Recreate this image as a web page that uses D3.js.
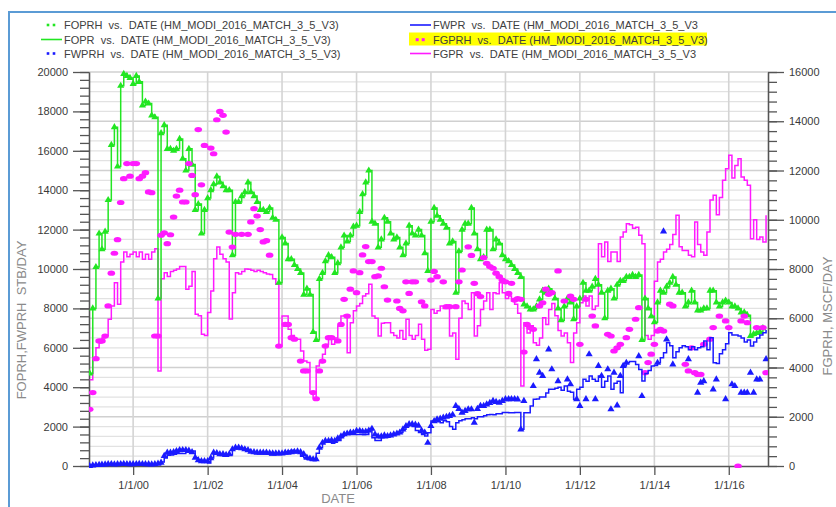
<!DOCTYPE html>
<html>
<head>
<meta charset="utf-8">
<script src="https://cdn.jsdelivr.net/npm/d3@7"></script>
<style>
  html, body { margin: 0; padding: 0; background: #fff; }
  svg { display: block; font-family: "Liberation Sans", Arial, sans-serif; }
</style>
</head>
<body>
<svg id="chart" width="836" height="507"></svg>
<script>
// ---- Field production history vs. simulation (HM_MODI_2016_MATCH_3_5_V3) ----

// Simulated oil rate FOPR, STB/DAY, one value per month from Nov 1998
const FOPR_START = "1998-11";
const FOPR = [
  4700, 8000,
  10100, 11800, 11000, 11900, 13500, 16300, 17200, 15200, 19300, 19900, 19800, 19700,
  19400, 19800, 19500, 18300, 18500, 18400, 17800, 17700, 8500, 16900, 17300, 16100,
  16100, 16000, 16100, 16600, 15600, 15000, 16100, 15300, 13000, 13300, 11800, 13000,
  13600, 14000, 14300, 14700, 14400, 14200, 14000, 14000, 10700, 13400, 13400, 13700,
  13900, 14400, 13900, 13700, 13400, 13000, 13000, 12900, 13100, 12600, 12500, 9300,
  11600, 11300, 10500, 10500, 10200, 10000, 9800, 8700, 9000, 8700, 6800, 6400,
  9500, 9800, 10400, 10700, 10600, 9800, 10300, 11100, 11700, 11400, 11700, 12150,
  12200, 12900, 13800, 14400, 15000, 12400, 12300, 11100, 11500, 12600, 12400, 11800,
  11500, 11600, 11100, 10700, 11300, 12200, 11800, 11700, 12000, 11700, 10800, 9900,
  12400, 13100, 12700, 12500, 12300, 12100, 11300, 11400, 8800, 10900, 12000, 12300,
  12300, 13100, 11800, 11000, 10500, 10600, 12000, 12000, 11000, 11500, 11300, 10700,
  10500, 10400, 10200, 10000, 9800, 9600, 8200, 8100, 7950, 7950, 8100, 8460,
  8900, 8800, 9000, 8800, 8500, 8000, 7400, 8100, 8500, 8300, 7450, 8100,
  8500, 9300, 8900, 8900, 9100, 9500, 9200, 8800, 7500, 8900, 9000, 8500,
  9200, 9400, 9400, 9600, 9600, 9700, 9600, 9700, 6400, 8500, 8000, 7600,
  7300, 8300, 8900, 8800, 9100, 9300, 9600, 9200, 8800, 8800, 8100, 8300,
  8900, 8300, 7900, 7900, 8000, 8000, 8900, 8900, 8300, 8100, 8300, 8400,
  8300, 8100, 8100, 8000, 7800, 7800, 7650, 6600, 6700, 6750, 6800, 7000
];
// Observed oil rate FOPRH: the model runs on oil-rate control, so it equals FOPR
const FOPRH = FOPR;

// Simulated gas rate FGPR, MSCF/DAY, monthly from Nov 1998
const FGPR_START = "1998-11";
const FGPR = [
  3500, 4400,
  4800, 5000, 5200, 5300, 5960, 6500, 7440, 6570, 8280, 8690, 8500, 8600,
  8690, 8500, 8690, 8400, 8600, 8400, 8690, 8820, 3860, 7600, 7850, 7700,
  7900, 7950, 8000, 8100, 8100, 7180, 7300, 7900, 6160, 6100, 5350, 5300,
  6230, 7110, 8420, 8890, 8600, 8420, 8280, 5970, 7040, 7850, 7800, 7900,
  8000, 7990, 7950, 7900, 7950, 7900, 7850, 7800, 7780, 7600, 7380, 4870,
  6090, 6090, 5550, 5300, 5150, 5150, 4670, 4260, 4200, 2980, 2770, 4060,
  4200, 4540, 4940, 5200, 4940, 5200, 5690, 6090, 6120, 4600, 5820, 6300,
  6500, 6600, 6900, 7000, 7380, 6090, 6000, 5280, 5800, 5820, 5820, 5410,
  5300, 5200, 5500, 5150, 5960, 5300, 5150, 5300, 5760, 5150, 4700, 4740,
  6360, 6200, 6300, 6500, 6400, 6500, 5280, 5400, 4330, 6000, 6700, 6600,
  6360, 7040, 5280, 5700, 6360, 6700, 7040, 6360, 7040, 7000, 7440, 7040,
  6800, 6900, 6700, 6570, 6200, 3250, 5820, 5400, 5700, 5010, 4900, 5200,
  6020, 5750, 6360, 6600, 6100, 5500, 5280, 5400, 5010, 4200, 5400, 5820,
  6630, 6900, 6500, 6900, 6360, 6500, 9030, 8500, 9100, 8300, 8690, 8690,
  8300, 9300, 9500, 9840, 9800, 9650, 9700, 9370, 9030, 5300, 5150, 5300,
  7500, 8280, 8400, 8690, 8800, 9000, 9400, 10180, 8900, 8750, 8750, 8560,
  8500, 9910, 9000, 8690, 8560, 9500, 10800, 10990, 10200, 10900, 11600, 12070,
  12620, 11700, 12200, 12480, 11740, 11600, 11400, 9230, 10000, 9200, 9300, 9100,
  10180
];

// Observed gas rate FGPRH, MSCF/DAY
const FGPRH = [
  ["1998-11",2300],["1998-12",2980],["1999-01",4360],["1999-02",5080],["1999-03",5080],
  ["1999-04",5280],["1999-05",6500],["1999-06",7830],["1999-07",8640],["1999-08",9190],
  ["1999-09",10700],["1999-10",11670],["1999-11",12280],["1999-12",11770],["2000-01",12280],
  ["2000-02",12280],["2000-03",11670],["2000-04",11770],["2000-05",11910],["2000-06",11130],
  ["2000-07",11100],["2000-08",5280],["2000-09",5280],["2000-10",9370],["2000-11",9470],
  ["2000-12",9030],["2001-01",9390],["2001-02",10110],["2001-03",10960],["2001-04",11200],
  ["2001-05",10720],["2001-06",10720],["2001-07",12280],["2001-08",11800],["2001-09",11020],
  ["2001-10",13660],["2001-11",11420],["2001-12",13020],["2002-02",12910],["2002-03",12680],
  ["2002-04",14060],["2002-05",14400],["2002-06",14240],["2002-07",13560],["2002-08",9500],
  ["2002-09",8890],["2002-10",9410],["2002-12",9410],["2003-02",9410],["2003-03",9910],
  ["2003-04",10450],["2003-05",10150],["2003-06",9600],["2003-07",9100],["2003-08",9150],
  ["2003-09",8560],["2003-12",4870],["2004-02",5750],["2004-03",5750],["2004-04",5210],
  ["2004-05",5150],["2004-07",4260],["2004-08",3860],["2004-09",3860],["2004-11",2980],
  ["2004-12",2730],["2005-01",3860],["2005-02",4260],["2005-03",4870],["2005-04",5210],
  ["2005-05",5210],["2005-07",5080],["2005-08",5750],["2005-09",6770],["2005-10",6090],
  ["2005-11",7180],["2005-12",7920],["2006-01",7040],["2006-02",7850],["2006-03",8570],
  ["2006-04",8910],["2006-05",8300],["2006-06",8300],["2006-07",7690],["2006-08",7720],
  ["2006-09",8030],["2006-10",7280],["2006-11",6740],["2007-02",6700],["2007-03",6400],
  ["2007-04",6300],["2007-05",7480],["2007-06",7010],["2007-07",7480],["2007-08",7480],
  ["2007-10",6670],["2007-11",6500],["2008-01",7550],["2008-02",7900],["2008-03",7690],
  ["2008-05",7480],["2008-06",6470],["2008-07",6470],["2008-09",6470],["2008-10",7480],
  ["2008-11",7960],["2009-01",8900],["2009-02",8550],["2009-03",7420],["2009-04",7000],
  ["2009-05",6880],["2009-06",8460],["2009-07",8230],["2009-08",8100],["2009-09",8030],
  ["2009-10",7830],["2009-11",7690],["2009-12",7550],["2010-01",7480],["2010-02",7010],
  ["2010-03",7420],["2010-04",6740],["2010-05",6800],["2010-06",6770],["2010-07",4630],
  ["2010-08",5750],["2010-09",5620],["2010-10",5550],["2010-12",6500],["2011-01",6630],
  ["2011-02",7180],["2011-03",6970],["2011-04",7040],["2011-06",7920],["2011-08",6700],
  ["2011-10",6900],["2011-11",6770],["2012-01",4940],["2012-03",6770],["2012-05",6090],
  ["2012-06",5690],["2012-10",5350],["2012-11",5280],["2012-12",4670],["2013-01",4800],
  ["2013-02",4940],["2013-04",5210],["2013-05",5550],["2013-07",5960],["2013-08",6430],
  ["2013-10",3790],["2013-11",4200],["2013-12",4540],["2014-01",4940],["2014-02",5480],
  ["2014-03",5550],["2014-04",5480],["2014-06",6570],["2014-07",6500],["2014-11",4130],
  ["2014-12",3860],["2015-01",4800],["2015-02",3790],["2015-03",3720],["2015-04",3720],
  ["2015-05",4940],["2015-07",5150],["2015-08",5620],["2015-10",6090],["2015-12",5890],
  ["2016-01",5620],["2016-04",0],["2016-05",5890],["2016-06",6090],["2016-07",5820],
  ["2016-10",5620],["2016-12",5620],["2017-01",3790]
];

// Simulated water rate FWPR, STB/DAY, monthly from Nov 1998
const FWPR_START = "1998-11";
const FWPR = [
  0, 0,
  30, 40, 50, 60, 80, 100, 80, 60, 80, 100, 80, 60,
  80, 100, 100, 80, 100, 80, 60, 80, 100, 200, 400, 550,
  560, 600, 640, 640, 640, 700, 720, 760, 420, 300, 250, 250,
  150, 400, 640, 640, 560, 500, 560, 560, 880, 900, 930, 900,
  850, 800, 700, 680, 640, 640, 620, 600, 560, 560, 600, 620,
  640, 700, 760, 800, 760, 700, 500, 420, 340, 300, 280, 650,
  930, 1180, 1270, 1270, 1150, 1270, 1300, 1500, 1610, 1610, 1600, 1600,
  1600, 1600, 1580, 1600, 1860, 1440, 1300, 1300, 1440, 1440, 1500, 1600,
  1600, 1650, 1700, 1860, 2030, 2120, 2000, 1800, 1700, 1600, 1520, 1690,
  2280, 2300, 2250, 2200, 2300, 2250, 2000, 1860, 2200, 2300, 2350, 2400,
  2400, 2450, 2400, 2500, 2500, 2550, 2600, 2620, 2600, 2650, 2650, 2710,
  2710, 2700, 2700, 2710, 2710, 1860, 2700, 2700, 3050, 3390, 3400, 3500,
  3500, 3700, 3890, 3890, 3950, 4000, 3850, 4060, 3800, 3750, 3390, 3900,
  4000, 4400, 4300, 4570, 4400, 4300, 4570, 4000, 4300, 4570, 3900, 4200,
  4300, 3720, 5080, 5240, 5300, 5300, 5150, 4900, 4310, 4700, 4850, 5080,
  5100, 5240, 5500, 5750, 6260, 6100, 5500, 5800, 6000, 6100, 6050, 5900,
  6050, 5900, 6000, 6050, 6350, 5900, 6510, 5240, 5200, 5700, 5900, 6200,
  6770, 6650, 6650, 6600, 6500, 6300, 6400, 6090, 6300, 6500, 6650, 6770,
  6900
];

// Observed water rate FWPRH, STB/DAY: monthly record to mid 2010 ...
const FWPRH_START = "1998-11";
const FWPRH_MONTHLY = [
  0, 30,
  50, 60, 70, 80, 90, 100, 80, 90, 100, 110, 100, 90,
  90, 100, 110, 100, 90, 90, 80, 90, 120, 170, 510, 680,
  680, 700, 760, 800, 810, 810, 780, 700, 420, 300, 250, 250,
  250, 400, 680, 660, 600, 600, 560, 600, 850, 930, 930, 900,
  850, 800, 720, 700, 680, 680, 680, 680, 660, 640, 640, 640,
  640, 680, 680, 700, 720, 740, 700, 600, 420, 380, 340, 340,
  930, 1180, 1270, 1270, 1300, 1270, 1400, 1500, 1610, 1650, 1690, 1700,
  1780, 1780, 1750, 1750, 1800, 1890, 1600, 1500, 1500, 1550, 1520, 1550,
  1600, 1650, 1700, 1860, 2030, 2120, 2120, 2100, 2050, 1800, 1700, 1180,
  2030, 2280, 2370, 2400, 2450, 2500, 2540, 2600, 3050, 2900, 2710, 2800,
  2880, 2880, 2200, 2900, 3050, 3050, 3130, 3200, 3300, 3250, 3210, 3300,
  3390, 3390, 3390, 3400, 3380, 1860, 3300
];
// ... and individual test points afterwards
const FWPRH_LATE = [
  ["2010-10",4060],["2010-11",5420],["2010-12",4740],["2011-01",4570],["2011-03",5920],
  ["2011-04",4910],["2011-06",4310],["2011-09",4400],["2011-10",4150],["2011-12",3390],
  ["2012-01",3050],["2012-03",3390],["2012-04",5670],["2012-06",3390],["2012-07",5080],
  ["2012-08",4570],["2012-10",4910],["2012-11",2880],["2012-12",4740],["2013-01",3080],
  ["2013-02",4570],["2013-03",5080],["2013-04",5240],["2013-08",5580],["2013-09",3550],
  ["2014-02",5240],["2014-04",11910],["2014-05",6430],["2014-07",5160],["2014-12",5420],
  ["2015-03",3720],["2015-04",4230],["2015-05",4310],["2015-08",3890],["2015-09",4400],
  ["2015-12",3390],["2016-02",4150],["2016-03",4060],["2016-05",3720],["2016-06",3720],
  ["2016-07",3720],["2016-08",4740],["2016-09",3720],["2016-10",4400],["2016-11",4400],
  ["2017-01",5420]
];

// Axis ticks
const Y_LEFT_MAX = 20000, Y_RIGHT_MAX = 16000;
const Y_MAJOR = 2000, Y_MINOR = 400;
const X_TICK_YEARS = [2000, 2002, 2004, 2006, 2008, 2010, 2012, 2014, 2016];

// Legend entries (left column, then right column)
const LEGEND_LEFT = [
  { key: "FOPRH", text: "FOPRH  vs.  DATE (HM_MODI_2016_MATCH_3_5_V3)", kind: "dots", color: "#22e622" },
  { key: "FOPR",  text: "FOPR  vs.  DATE (HM_MODI_2016_MATCH_3_5_V3)",  kind: "line", color: "#22e622" },
  { key: "FWPRH", text: "FWPRH  vs.  DATE (HM_MODI_2016_MATCH_3_5_V3)", kind: "dots", color: "#1a1aff" }
];
const LEGEND_RIGHT = [
  { key: "FWPR",  text: "FWPR  vs.  DATE (HM_MODI_2016_MATCH_3_5_V3",   kind: "line", color: "#1a1aff" },
  { key: "FGPRH", text: "FGPRH  vs.  DATE (HM_MODI_2016_MATCH_3_5_V3)", kind: "dots", color: "#ff1aff", highlight: true },
  { key: "FGPR",  text: "FGPR  vs.  DATE (HM_MODI_2016_MATCH_3_5_V3",   kind: "line", color: "#ff1aff" }
];

// ---- helpers ----
const parseMonth = d3.timeParse("%Y-%m");
const monthly = (start, values) => {
  const s = parseMonth(start);
  return values.map((v, i) => ({ date: d3.timeMonth.offset(s, i), value: v }));
};
const pairs = list => list.map(([d, v]) => ({ date: parseMonth(d), value: v }));

const GREEN = "#22e622", BLUE = "#1a1aff", MAGENTA = "#ff1aff";

const plot = { left: 89, right: 768, top: 72, bottom: 466 };

const x = d3.scaleTime()
  .domain([new Date(1998, 9, 25), new Date(2017, 0, 20)])
  .range([plot.left, plot.right]);
const yL = d3.scaleLinear().domain([0, Y_LEFT_MAX]).range([plot.bottom, plot.top]);
const yR = d3.scaleLinear().domain([0, Y_RIGHT_MAX]).range([plot.bottom, plot.top]);

const svg = d3.select("#chart");

// window frame
svg.append("path")
  .attr("d", "M9,507 L9,12 L836,12")
  .attr("fill", "none").attr("stroke", "#5b9bd5").attr("stroke-width", 2);

// ---- grid ----
const grid = svg.append("g");
grid.selectAll("line.h")
  .data(d3.range(Y_MINOR, Y_RIGHT_MAX + 1, Y_MINOR))
  .join("line")
  .attr("x1", plot.left).attr("x2", plot.right)
  .attr("y1", d => yR(d)).attr("y2", d => yR(d))
  .attr("stroke", d => d % Y_MAJOR === 0 ? "#d0d0d0" : "#e2e2e2")
  .attr("stroke-width", d => d % Y_MAJOR === 0 ? 1.6 : 1.2);
const xTicks = X_TICK_YEARS.map(y => new Date(y, 0, 1));
grid.selectAll("line.v")
  .data(xTicks)
  .join("line")
  .attr("x1", d => x(d)).attr("x2", d => x(d))
  .attr("y1", plot.top).attr("y2", plot.bottom)
  .attr("stroke", "#d4d4d4").attr("stroke-width", 1.6);

// ---- axes ----
const axisColor = "#555", labelColor = "#3a3a3a";
function styleAxis(g) {
  g.select(".domain").attr("stroke", axisColor).attr("stroke-width", 1.3);
  g.selectAll(".tick line").attr("stroke", axisColor).attr("stroke-width", 1.3);
  g.selectAll(".tick text").attr("fill", labelColor)
    .style("font-size", "11px").style("font-family", "'Liberation Sans', Arial, sans-serif");
}
const fmt = d3.format("d");
svg.append("g").attr("transform", `translate(${plot.left},0)`)
  .call(d3.axisLeft(yL).tickValues(d3.range(0, Y_LEFT_MAX + 1, Y_MINOR)).tickSize(9).tickFormat("").tickSizeOuter(0))
  .call(styleAxis);
svg.append("g").attr("transform", `translate(${plot.left},0)`)
  .call(d3.axisLeft(yL).tickValues(d3.range(0, Y_LEFT_MAX + 1, Y_MAJOR)).tickSize(16).tickPadding(5).tickFormat(fmt).tickSizeOuter(0))
  .call(styleAxis);
svg.append("g").attr("transform", `translate(${plot.right},0)`)
  .call(d3.axisRight(yR).tickValues(d3.range(0, Y_RIGHT_MAX + 1, Y_MINOR)).tickSize(9).tickFormat("").tickSizeOuter(0))
  .call(styleAxis);
svg.append("g").attr("transform", `translate(${plot.right},0)`)
  .call(d3.axisRight(yR).tickValues(d3.range(0, Y_RIGHT_MAX + 1, Y_MAJOR)).tickSize(16).tickPadding(5).tickFormat(fmt).tickSizeOuter(0))
  .call(styleAxis);
svg.append("g").attr("transform", `translate(0,${plot.bottom})`)
  .call(d3.axisBottom(x).tickValues(xTicks).tickSize(9).tickPadding(6).tickFormat(d3.timeFormat("%-m/%-d/%y")).tickSizeOuter(0))
  .call(styleAxis);

// axis titles, kept just inside the page edge
const titleStyle = t => t.attr("fill", "#8a8a8a").style("font-size", "13px");
svg.append("text").attr("transform", "translate(26,320) rotate(-90)")
  .attr("text-anchor", "middle").style("white-space", "pre")
  .text("FOPRH,FWPRH  STB/DAY").call(titleStyle);
svg.append("text").attr("transform", "translate(832,316) rotate(-90)")
  .attr("text-anchor", "middle")
  .text("FGPRH, MSCF/DAY").call(titleStyle);
svg.append("text").attr("x", 338).attr("y", 503)
  .attr("text-anchor", "middle")
  .text("DATE").call(titleStyle);

// ---- series ----
svg.append("defs").append("clipPath").attr("id", "plotclip")
  .append("rect").attr("x", plot.left).attr("y", plot.top - 6)
  .attr("width", plot.right - plot.left).attr("height", plot.bottom - plot.top + 8);
const layer = svg.append("g").attr("clip-path", "url(#plotclip)");

const stepLine = y => d3.line().curve(d3.curveStepAfter).x(d => x(d.date)).y(d => y(d.value));
const tri = d3.symbol().type(d3.symbolTriangle).size(22);

const fgpr = monthly(FGPR_START, FGPR);
const fopr = monthly(FOPR_START, FOPR);
const foprh = monthly(FOPR_START, FOPRH);
const fgprh = pairs(FGPRH);
const fwpr = monthly(FWPR_START, FWPR);
const fwprh = monthly(FWPRH_START, FWPRH_MONTHLY).concat(pairs(FWPRH_LATE));

layer.append("path").datum(fgpr).attr("d", stepLine(yR))
  .attr("fill", "none").attr("stroke", MAGENTA).attr("stroke-width", 1.5);
layer.append("path").datum(fopr).attr("d", stepLine(yL))
  .attr("fill", "none").attr("stroke", GREEN).attr("stroke-width", 1.5);
layer.append("g").selectAll("path").data(foprh).join("path")
  .attr("d", tri).attr("transform", d => `translate(${x(d.date)},${yL(d.value)})`)
  .attr("fill", GREEN);
layer.append("g").selectAll("ellipse").data(fgprh).join("ellipse")
  .attr("cx", d => x(d.date)).attr("cy", d => yR(d.value))
  .attr("rx", 3.8).attr("ry", 2.6).attr("fill", MAGENTA);
layer.append("path").datum(fwpr).attr("d", stepLine(yL))
  .attr("fill", "none").attr("stroke", BLUE).attr("stroke-width", 1.5);
layer.append("g").selectAll("path").data(fwprh).join("path")
  .attr("d", tri).attr("transform", d => `translate(${x(d.date)},${yL(d.value)})`)
  .attr("fill", BLUE);

// ---- legend ----
function drawLegend(entries, x0, textX, ys) {
  entries.forEach((e, i) => {
    const y = ys[i];
    const g = svg.append("g");
    if (e.highlight) {
      g.append("rect").attr("x", x0 - 1).attr("y", y - 7).attr("width", 298).attr("height", 13)
        .attr("fill", "#ffff00");
    }
    if (e.kind === "line") {
      g.append("line").attr("x1", x0).attr("x2", textX - 2).attr("y1", y).attr("y2", y)
        .attr("stroke", e.color).attr("stroke-width", 1.6);
    } else {
      [x0 + 7, x0 + 13].forEach(cx => g.append("rect")
        .attr("x", cx - 1.3).attr("y", y - 1.3).attr("width", e.highlight ? 3 : 2.6).attr("height", e.highlight ? 3 : 2.6)
        .attr("fill", e.color));
    }
    g.append("text").attr("x", textX).attr("y", y + 4)
      .attr("fill", "#404040").style("font-size", "11px").style("white-space", "pre")
      .text(e.text);
  });
}
drawLegend(LEGEND_LEFT, 41, 64, [25, 39.5, 53.5]);
drawLegend(LEGEND_RIGHT, 410, 433, [25, 39.5, 53.5]);
</script>
</body>
</html>
